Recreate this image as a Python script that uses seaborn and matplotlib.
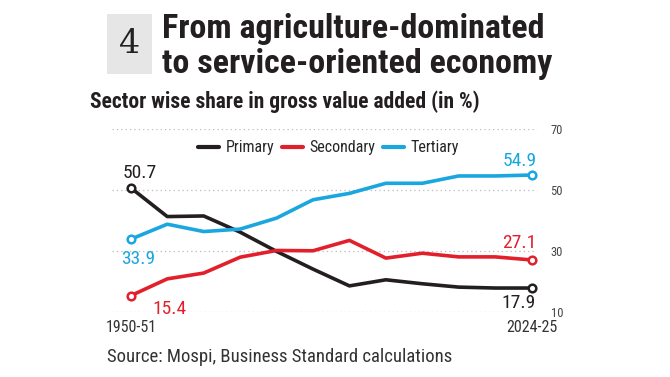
import pandas as pd
import seaborn as sns
import matplotlib.pyplot as plt
from matplotlib.patches import Rectangle

# values (12 points, only the ends are labelled)
periods = ["1950-51", "", "", "", "", "", "", "", "", "", "", "2024-25"]
primary = [50.7, 41.3, 41.5, 36.2, 29.9, 24.1, 18.6, 20.6, 19.3, 18.2, 17.9, 17.9]
secondary = [15.4, 20.9, 22.8, 28.0, 30.2, 30.1, 33.5, 27.7, 29.3, 28.1, 28.1, 27.1]
tertiary = [33.9, 38.8, 36.4, 37.2, 40.8, 46.8, 48.9, 52.2, 52.2, 54.6, 54.6, 54.9]
yticks = [10, 30, 50, 70]

colors = {"Primary": "#231f20", "Secondary": "#e2202c", "Tertiary": "#1aa7df"}

df = pd.DataFrame({
    "idx": list(range(len(periods))) * 3,
    "Sector": ["Primary"] * 12 + ["Secondary"] * 12 + ["Tertiary"] * 12,
    "Share": primary + secondary + tertiary,
})

sns.set_theme(style="white")
plt.rcParams["font.family"] = ["Roboto Condensed", "Liberation Sans Narrow", "Roboto", "DejaVu Sans"]

fig = plt.figure(figsize=(6.7, 3.77), dpi=100)
ax = fig.add_axes([0.167, 0.172, 0.634, 0.486])

sns.lineplot(data=df, x="idx", y="Share", hue="Sector", palette=colors,
             linewidth=2.6, ax=ax)

# open circles at both ends
for name, vals in [("Primary", primary), ("Secondary", secondary), ("Tertiary", tertiary)]:
    ax.plot([0, 11], [vals[0], vals[-1]], "o", ms=5.5, mfc="white",
            mec=colors[name], mew=1.8, zorder=5)

ax.set_xlim(-0.52, 11.14)
ax.set_ylim(10, 70)
ax.set_yticks(yticks)
ax.yaxis.tick_right()
ax.tick_params(axis="y", length=0, labelsize=9, labelcolor="#444444", pad=10)
ax.grid(axis="y", color="#bbbbbb", linestyle=(0, (1, 2.5)), linewidth=0.9)
ax.set_axisbelow(True)
pos = [i for i, p in enumerate(periods) if p]
ax.set_xticks(pos)
ax.set_xticklabels([periods[i] for i in pos])
ax.tick_params(axis="x", length=0, labelsize=11.5, labelcolor="#333333", pad=6)
for s in ax.spines.values():
    s.set_visible(False)
ax.set_xlabel("")
ax.set_ylabel("")

# end labels
kw = dict(fontsize=14)
ax.text(-0.22, primary[0] + 1.8, "50.7", color=colors["Primary"], ha="left", va="bottom", **kw)
ax.text(-0.28, tertiary[0] - 3.6, "33.9", color=colors["Tertiary"], ha="left", va="top", **kw)
ax.text(0.58, secondary[0] - 1.4, "15.4", color=colors["Secondary"], ha="left", va="top", **kw)
ax.text(11.15, tertiary[-1] + 1.6, "54.9", color=colors["Tertiary"], ha="right", va="bottom", **kw)
ax.text(11.12, secondary[-1] + 2.6, "27.1", color=colors["Secondary"], ha="right", va="bottom", **kw)
ax.text(11.12, primary[-1] - 1.8, "17.9", color=colors["Primary"], ha="right", va="top", **kw)

leg = ax.legend(loc="upper center", bbox_to_anchor=(0.51, 1.0), ncol=3, frameon=False,
                fontsize=11.5, handlelength=1.3, handletextpad=0.4, columnspacing=0.5,
                borderaxespad=0.3)
for line in leg.get_lines():
    line.set_linewidth(3)

# headline block
fig.patches.append(Rectangle((107 / 670, 1 - 74 / 377), 45 / 670, 60 / 377,
                             transform=fig.transFigure, facecolor="#e6e6e6",
                             edgecolor="none"))
fig.text(129.5 / 670, 1 - 44 / 377, "4", fontsize=24, family="DejaVu Serif",
         ha="center", va="center", color="#222222")
fig.text(162 / 670, 1 - 38 / 377, "From agriculture-dominated", fontsize=24.5,
         fontweight="bold", color="#231f20", va="baseline")
fig.text(162 / 670, 1 - 73 / 377, "to service-oriented economy", fontsize=24.5,
         fontweight="bold", color="#231f20", va="baseline")
fig.text(90 / 670, 1 - 108 / 377, "Sector wise share in gross value added (in %)",
         fontsize=15.5, fontweight="semibold", color="#231f20", va="baseline")
fig.text(107 / 670, 1 - 362 / 377, "Source: Mospi, Business Standard calculations",
         fontsize=13.5, color="#333333", va="baseline")

fig.savefig("out.png", dpi=100, facecolor="white")
